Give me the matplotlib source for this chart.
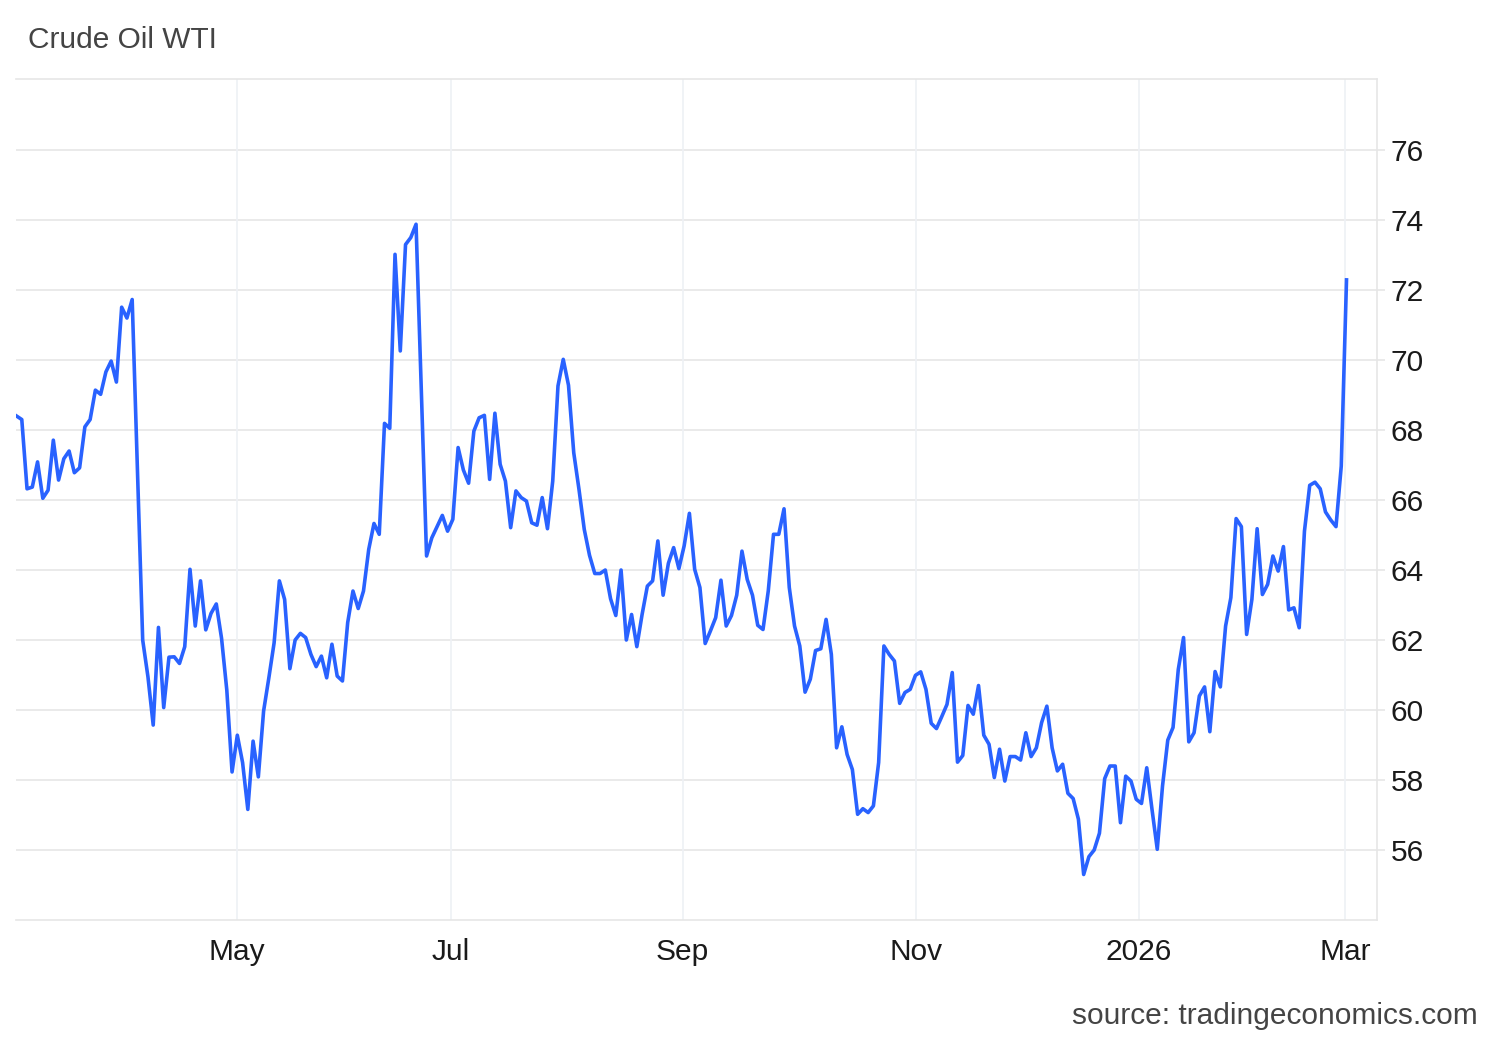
import matplotlib
matplotlib.use("Agg")
import matplotlib.pyplot as plt
import numpy as np

# Daily WTI closes (trading days, from early Mar 2025 to early Mar 2026)
wti_values = [
    68.40, 68.30, 66.32, 66.37, 67.09, 66.05, 66.28, 67.71, 66.57, 67.18, 67.40, 66.78, 66.92, 68.09, 68.30, 69.14, 69.02, 69.66, 69.97, 69.37, 71.51, 71.20, 71.73,
    66.90, 62.00, 60.95, 59.57, 62.36, 60.07, 61.51, 61.52, 61.33, 61.81, 64.02, 62.40, 63.69, 62.29, 62.76, 63.03, 62.05, 60.57, 58.23,
    59.28, 58.50, 57.16, 59.11, 58.09, 59.97, 60.92, 61.92, 63.69, 63.16, 61.18, 62.00, 62.19, 62.07, 61.59, 61.24, 61.54, 60.92, 61.88, 60.97, 60.83,
    62.50, 63.40, 62.90, 63.40, 64.59, 65.33, 65.02, 68.19, 68.05, 73.02, 70.26, 73.30, 73.50, 73.88, 69.10, 64.40, 64.92, 65.24, 65.56, 65.11, 65.45,
    67.50, 66.86, 66.48, 67.97, 68.35, 68.42, 66.59, 68.48, 67.02, 66.54, 65.21, 66.26, 66.07, 65.97, 65.35, 65.28, 66.07, 65.18, 66.54, 69.26, 70.02,
    69.28, 67.35, 66.30, 65.16, 64.42, 63.90, 63.90, 64.00, 63.18, 62.70, 64.00, 62.00, 62.73, 61.81, 62.73, 63.54, 63.69, 64.83, 63.28, 64.19, 64.64,
    64.04, 64.69, 65.62, 64.02, 63.50, 61.90, 62.26, 62.64, 63.71, 62.40, 62.70, 63.28, 64.54, 63.73, 63.28, 62.42, 62.30, 63.40, 65.02, 65.02, 65.75,
    63.50, 62.40, 61.83, 60.51, 60.88, 61.70, 61.75, 62.59, 61.59, 58.92, 59.52, 58.73, 58.30, 57.02, 57.18, 57.07, 57.26, 58.50, 61.83, 61.59, 61.40,
    60.19, 60.50, 60.59, 60.99, 61.09, 60.59, 59.62, 59.47, 59.81, 60.16, 61.07, 58.51, 58.70, 60.13, 59.88, 60.70, 59.28, 59.02, 58.07, 58.88, 57.97,
    58.67, 58.67, 58.57, 59.35, 58.67, 58.92, 59.64, 60.11, 58.92, 58.26, 58.45, 57.62, 57.47, 56.88, 55.30, 55.81, 56.00, 56.48, 58.04, 58.40, 58.40,
    56.78, 58.11, 57.97, 57.45, 57.33, 58.35, 57.16, 56.02, 57.83, 59.14, 59.50, 61.16, 62.07, 59.09, 59.35, 60.40, 60.66, 59.38, 61.10, 60.66, 62.40,
    63.21, 65.47, 65.24, 62.16, 63.16, 65.18, 63.30, 63.59, 64.40, 63.97, 64.67, 62.86, 62.92, 62.35, 65.11, 66.42, 66.51, 66.32, 65.66, 65.43, 65.24, 66.97, 72.29,
]

# Month boundaries in trading-day index space and their labels
month_tick_positions = [41.85, 82.6, 126.7, 171.2, 213.5, 252.7]
month_tick_labels = ["May", "Jul", "Sep", "Nov", "2026", "Mar"]
y_ticks = [56, 58, 60, 62, 64, 66, 68, 70, 72, 74, 76]

FONT = ["Liberation Sans", "DejaVu Sans"]
plt.rcParams["font.family"] = FONT

fig = plt.figure(figsize=(15, 10.4), dpi=100)
ax = fig.add_axes([16 / 1500, 1 - 920 / 1040, (1377 - 16) / 1500, (920 - 79) / 1040])

x = np.arange(len(wti_values))
ax.plot(x, wti_values, color="#2962ff", lw=2.6, solid_joinstyle="round", zorder=3)

ax.set_xlim(-0.1, 258.8)
ax.set_ylim(54.0, 78.03)

ax.set_xticks(month_tick_positions)
ax.set_xticklabels(month_tick_labels)
ax.set_yticks(y_ticks)
ax.set_yticklabels([str(v) for v in y_ticks])

ax.yaxis.tick_right()
ax.tick_params(axis="y", which="both", length=6, width=1.2, color="#e6e6e6",
               pad=4, labelsize=21.5, labelcolor="#1a1a1a")
ax.tick_params(axis="x", which="both", length=0, pad=13, labelsize=21.5,
               labelcolor="#1a1a1a")

for yv in y_ticks:
    ax.axhline(yv, color="#e6e6e6", lw=1.2, zorder=1)
for xv in month_tick_positions:
    ax.axvline(xv, color="#eef1f5", lw=1.2, zorder=1)

ax.spines["left"].set_visible(False)
for side in ["top", "bottom", "right"]:
    ax.spines[side].set_color("#e6e6e6")
    ax.spines[side].set_linewidth(1.2)

fig.text(28 / 1500, 1 - 40 / 1040, "Crude Oil WTI", fontsize=21.5,
         color="#444444", ha="left", va="center")
fig.text(1478 / 1500, 1 - 1016 / 1040, "source: tradingeconomics.com",
         fontsize=21.5, color="#444444", ha="right", va="center")

fig.savefig("out.png", dpi=100, facecolor="white")
